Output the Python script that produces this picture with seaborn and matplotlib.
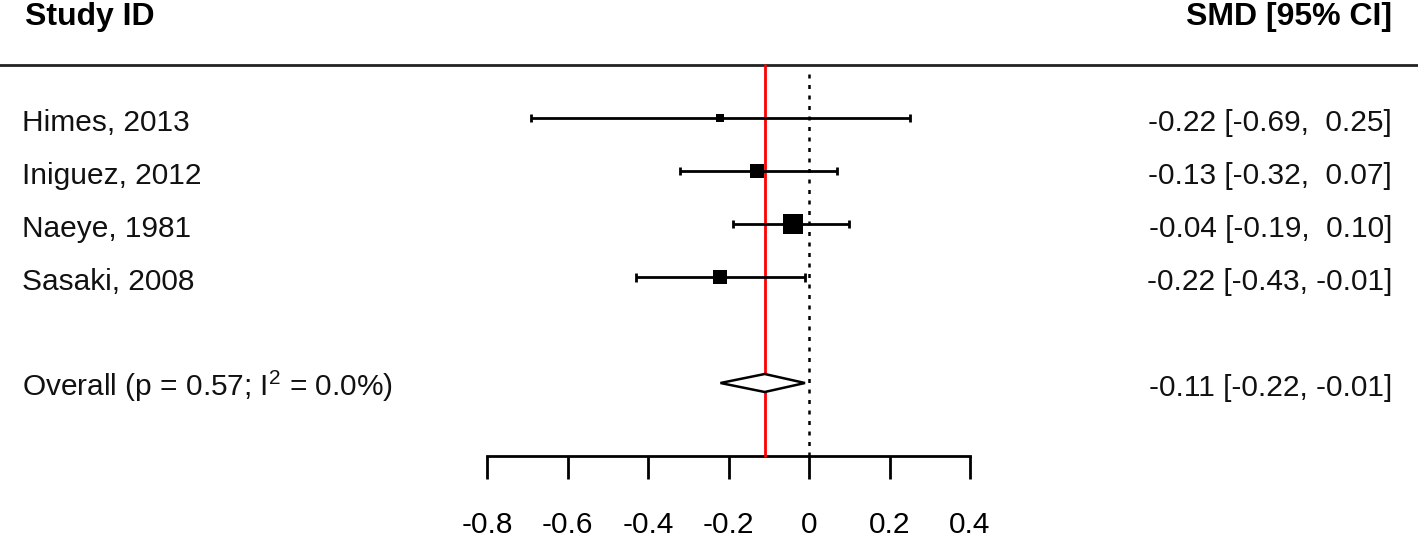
import numpy as np
import pandas as pd
import matplotlib
matplotlib.use("Agg")
import matplotlib.pyplot as plt
import seaborn as sns
from matplotlib.patches import Polygon

# ---- data ----
studies = ["Himes, 2013", "Iniguez, 2012", "Naeye, 1981", "Sasaki, 2008"]
smd = [-0.22, -0.13, -0.04, -0.22]
ci_low = [-0.69, -0.32, -0.19, -0.43]
ci_high = [0.25, 0.07, 0.10, -0.01]
weights = [4.5, 26.1, 47.0, 22.4]          # relative study weights (%)
overall_label = r"Overall (p = 0.57; I$^{2}$ = 0.0%)"
overall_est, overall_low, overall_high = -0.11, -0.22, -0.01
xticks = [-0.8, -0.6, -0.4, -0.2, 0.0, 0.2, 0.4]
xtick_labels = ["-0.8", "-0.6", "-0.4", "-0.2", "0", "0.2", "0.4"]
header_left = "Study ID"
header_right = "SMD [95% CI]"

# ---- style ----
sns.set_theme(style="white")
plt.rcParams["font.family"] = ["Liberation Sans", "DejaVu Sans"]
plt.rcParams["mathtext.fontset"] = "custom"
plt.rcParams["mathtext.rm"] = "Liberation Sans"
plt.rcParams["mathtext.it"] = "Liberation Sans"
plt.rcParams["axes.unicode_minus"] = False

W, H, DPI = 1418, 539, 100
PX_PER_UNIT = 402.5     # horizontal pixels per SMD unit
X0_PX = 809             # pixel position of SMD = 0
ROW_PX = 53             # pixels per row
FS = 21.5
HFS = 23
LW = 2.0

fig = plt.figure(figsize=(W / DPI, H / DPI), dpi=DPI)
ax = fig.add_axes([0, 0, 1, 1])
ax.set_xlim(-X0_PX / PX_PER_UNIT, (W - X0_PX) / PX_PER_UNIT)
top_row = 6
ax.set_ylim(top_row - (H - 118) / ROW_PX, top_row + 118 / ROW_PX)

rows = [6, 5, 4, 3]
overall_row = 1
sep_row = 7
header_row = top_row + (118 - 25) / ROW_PX      # baseline of header
axis_row = overall_row - (455 - 382) / ROW_PX
text_off = 13 / ROW_PX
cap = 4.5 / ROW_PX

df = pd.DataFrame({"study": studies, "smd": smd, "lo": ci_low, "hi": ci_high,
                   "w": weights, "row": rows})
wmin, wmax = min(weights), max(weights)
df["side_px"] = 8.0 + (df["w"] - wmin) / (wmax - wmin) * 12.8

# reference lines
ax.plot([-2.1, 1.6], [sep_row, sep_row], color="#222222", lw=LW, zorder=2)
ax.plot([0, 0], [axis_row, sep_row - 0.12], color="black", lw=1.8,
        linestyle=(0, (1.6, 2.6)), zorder=1)
ax.plot([overall_est, overall_est], [axis_row, sep_row], color="#ff0000",
        lw=LW, zorder=3)

# CI lines with end caps
ax.hlines(df["row"], df["lo"], df["hi"], color="black", lw=LW, zorder=4)
ax.vlines(list(df["lo"]) + list(df["hi"]),
          [r - cap for r in rows] * 2, [r + cap for r in rows] * 2,
          color="black", lw=LW, zorder=4)

# squares
for _, r in df.iterrows():
    sns.scatterplot(x=[r["smd"]], y=[r["row"]], marker="s",
                    s=(r["side_px"] * 0.72) ** 2, color="black",
                    edgecolor="black", linewidth=0, ax=ax, zorder=5,
                    legend=False)

# overall diamond
dh = 9 / ROW_PX
diamond = Polygon([[overall_low, overall_row], [overall_est, overall_row + dh],
                   [overall_high, overall_row], [overall_est, overall_row - dh]],
                  closed=True, facecolor="white", edgecolor="black", lw=1.8,
                  zorder=6)
ax.add_patch(diamond)

# text
x_left = (22 - X0_PX) / PX_PER_UNIT
x_right = (1392 - X0_PX) / PX_PER_UNIT
ax.text((25 - X0_PX) / PX_PER_UNIT, header_row, header_left, fontsize=HFS,
        fontweight="bold", ha="left", va="baseline", color="black")
ax.text(x_right, header_row, header_right, fontsize=HFS, fontweight="bold",
        ha="right", va="baseline", color="black")


def fmt(e, l, h):
    return f"{e:.2f} [{l:.2f}, {h:>5.2f}]"


for _, r in df.iterrows():
    ax.text(x_left, r["row"] - text_off, r["study"], fontsize=FS, ha="left",
            va="baseline", color="#111111")
    ax.text(x_right, r["row"] - text_off, fmt(r["smd"], r["lo"], r["hi"]),
            fontsize=FS, ha="right", va="baseline", color="#111111")
ax.text(x_left, overall_row - text_off, overall_label, fontsize=FS, ha="left",
        va="baseline", color="#111111")
ax.text(x_right, overall_row - text_off,
        fmt(overall_est, overall_low, overall_high), fontsize=FS, ha="right",
        va="baseline", color="#111111")

# x axis
for s in ["top", "left", "right"]:
    ax.spines[s].set_visible(False)
ax.spines["bottom"].set_position(("data", axis_row))
ax.spines["bottom"].set_bounds(xticks[0], xticks[-1])
ax.spines["bottom"].set_linewidth(LW)
ax.spines["bottom"].set_color("black")
ax.set_xticks(xticks)
ax.set_xticklabels(xtick_labels)
ax.tick_params(axis="x", direction="out", length=16.5, width=LW,
               colors="black", labelsize=FS, pad=23, bottom=True)
ax.set_yticks([])
ax.grid(False)

fig.savefig("out.png", dpi=DPI, facecolor="white")
